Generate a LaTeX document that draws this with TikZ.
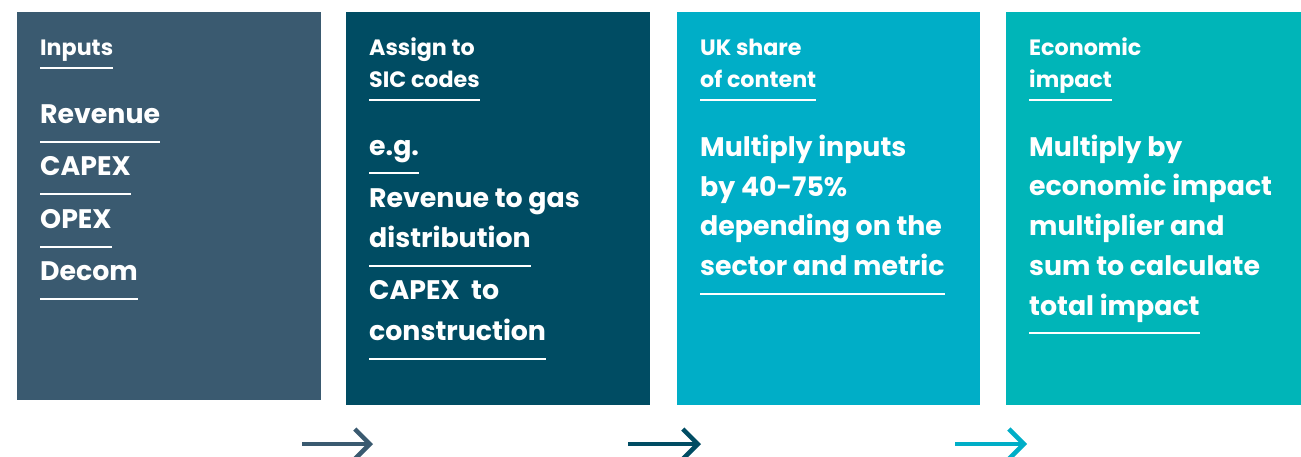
\documentclass[tikz,border=0pt]{standalone}
\usepackage{fontspec}
\setmainfont{Poppins}[UprightFont={* SemiBold},BoldFont={* Bold}]
\usepackage{tikz}
\usetikzlibrary{arrows.meta}
\definecolor{inputs}{HTML}{3A5A70}
\definecolor{sic}{HTML}{004C63}
\definecolor{share}{HTML}{00AEC7}
\definecolor{econ}{HTML}{00B5B8}
\tikzset{every node/.style={anchor=base west,inner sep=0pt,text=white}}
\tikzset{hd/.style={font=\fontsize{22.2}{22.2}\selectfont\bfseries}}
\tikzset{bd/.style={font=\fontsize{26.8}{26.8}\selectfont\bfseries}}
\tikzset{ul/.style={draw=white,line width=2pt}}
\tikzset{flow/.style={-{Straight Barb[length=15pt,width=30pt]},line width=4.5pt}}

\begin{document}
\begin{tikzpicture}[x=1pt,y=-1pt]
\useasboundingbox (0,0) rectangle (1301,456);
\fill[inputs] (17,12) rectangle (321,400);
\fill[sic] (346,12) rectangle (650,405);
\fill[share] (677,12) rectangle (980,405);
\fill[econ] (1006,12) rectangle (1301,405);

% inputs
\node[hd](inp) at (40,55) {Inputs};
\node[bd](rev) at (40,123) {Revenue};
\node[bd](capex) at (40,175) {CAPEX};
\node[bd](opex) at (40,228) {OPEX};
\node[bd](decom) at (40,280) {Decom};

% SIC codes
\node[hd](asg) at (369,55) {Assign to};
\node[hd](sicc) at (369,87) {SIC codes};
\node[bd](eg) at (369,155) {e.g.};
\node[bd](revgas) at (369,207) {Revenue to gas};
\node[bd](dist) at (369,247) {distribution};
\node[bd](capto) at (369,299) {CAPEX~ to};
\node[bd](constr) at (369,340) {construction};

% UK share
\node[hd](uks) at (700,55) {UK share};
\node[hd](ofc) at (700,87) {of content};
\node[bd](mi) at (700,156) {Multiply inputs};
\node[bd](pct) at (700,196) {by 40-75\%};
\node[bd](dep) at (700,235) {depending on the};
\node[bd](sec) at (700,275) {sector and metric};

% economic impact
\node[hd](eco) at (1029,55) {Economic};
\node[hd](imp) at (1029,87) {impact};
\node[bd](mb) at (1029,156) {Multiply by};
\node[bd](ei) at (1029,195) {economic impact};
\node[bd](ma) at (1029,235) {multiplier and};
\node[bd](sum) at (1029,275) {sum to calculate};
\node[bd](tot) at (1029,315) {total impact};

\foreach \n/\d in {inp/13,rev/19,capex/19,opex/19,decom/19,sicc/13,eg/18,dist/19,constr/19,ofc/13,sec/19,imp/13,tot/18}
  \draw[ul] ([yshift=-\d pt]\n.base west) -- ([yshift=-\d pt]\n.base east);

\coordinate (a1) at (302,444);
\coordinate (b1) at (373,444);
\coordinate (a2) at (628,444);
\coordinate (b2) at (701,444);
\coordinate (a3) at (955,444);
\coordinate (b3) at (1027,444);
\draw[flow,inputs] (a1) -- (b1);
\draw[flow,sic] (a2) -- (b2);
\draw[flow,share] (a3) -- (b3);
\end{tikzpicture}
\end{document}
